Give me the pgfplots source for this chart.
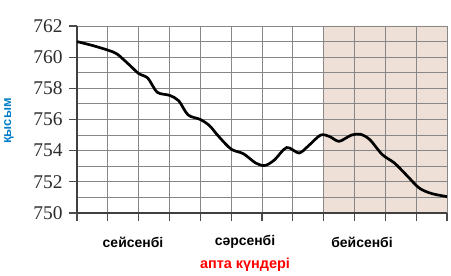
\documentclass[border=0pt]{standalone}
\usepackage{pgfplots}
\pgfplotsset{compat=1.18}
\usepackage{fontspec}
\setmainfont{Liberation Serif}
\newfontfamily\sansf{Liberation Sans}
\definecolor{shade}{RGB}{238,224,214}
\definecolor{gridc}{RGB}{135,135,135}
\definecolor{ticklab}{RGB}{45,45,45}
\definecolor{ylab}{RGB}{0,125,200}
\begin{document}
\begin{tikzpicture}
\begin{axis}[
  set layers,
  at={(0,0)}, anchor=origin,
  scale only axis, width=370bp, height=187bp,
  xmin=0, xmax=12, ymin=750, ymax=762,
  axis x line=bottom, axis y line=left,
  axis line style={-, draw=black!75, line width=1.3pt},
  xtick={0,...,12}, xticklabels={},
  ytick={750,752,...,762},
  minor ytick={751,753,...,761},
  xmajorgrids=true, ymajorgrids=true, yminorgrids=true,
  major grid style={draw=gridc, line width=0.9pt},
  minor grid style={draw=gridc, line width=0.9pt},
  major tick style={draw=black!70, line width=1.1pt},
  tick align=outside,
  major tick length=8bp,
  minor tick length=0pt,
  yticklabel style={font=\fontsize{19.5}{19.5}\selectfont, text=ticklab, xshift=-3bp},
  /pgf/number format/assume math mode=true,
  /pgf/number format/1000 sep={},
  clip=false,
]
\addplot[draw=none, fill=shade, forget plot, on layer=axis background] coordinates {(8,750) (12,750) (12,762) (8,762)} \closedcycle;
\addplot[black, line width=2.7pt, smooth, tension=0.5] coordinates {
(0,761.0) (0.5,760.75) (1,760.45) (1.3,760.2) (1.7,759.5) (2,758.95) (2.3,758.65)
(2.6,757.75) (3,757.55) (3.3,757.2) (3.6,756.3) (4,756.0) (4.3,755.6) (4.6,754.9)
(5,754.1) (5.4,753.8) (5.8,753.2) (6.1,753.05) (6.4,753.4) (6.8,754.2) (7.2,753.85)
(7.5,754.3) (7.9,755.0) (8.2,754.9) (8.5,754.6) (8.9,755.0) (9.2,755.05) (9.5,754.7)
(9.9,753.75) (10.3,753.2) (10.7,752.4) (11.1,751.6) (11.5,751.25) (12,751.05)};
\end{axis}
\node[font=\sansf\bfseries\fontsize{14}{14}\selectfont] at (56bp,-29bp) {сейсенбі};
\node[font=\sansf\bfseries\fontsize{14}{14}\selectfont] at (168bp,-29bp) {сәрсенбі};
\node[font=\sansf\bfseries\fontsize{14}{14}\selectfont] at (285bp,-29bp) {бейсенбі};
\node[font=\sansf\bfseries\fontsize{14.5}{14.5}\selectfont, text=red] at (168bp,-52bp) {апта күндері};
\node[font=\sansf\bfseries\fontsize{13}{13}\selectfont, text=ylab, rotate=90] at (-68bp,92bp) {қысым};
\path (-77bp,-62bp) rectangle (374bp,213bp);
\end{tikzpicture}
\end{document}
